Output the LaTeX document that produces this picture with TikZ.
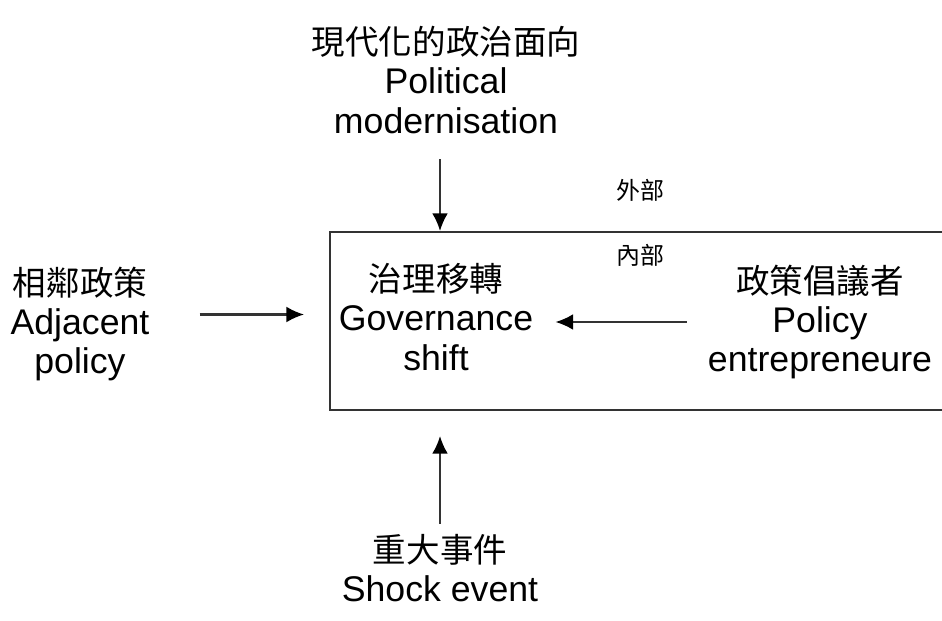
\documentclass[tikz,border=0pt]{standalone}
\usepackage{fontspec}
\setmainfont{Liberation Sans}
\newfontfamily\cjk[Scale=0.94]{Noto Sans CJK TC}
\usetikzlibrary{arrows.meta}
\tikzset{>={Latex[length=10pt,width=9pt,black]}}
\colorlet{linecol}{black!80}
\tikzstyle{label txt}=[align=center,font=\fontsize{20.3}{22.4}\selectfont,inner sep=0pt]
\tikzstyle{small txt}=[font=\cjk\fontsize{14.5}{16}\selectfont,inner sep=0pt]
\tikzstyle{flow}=[->,color=linecol,line width=1.2pt]

\begin{document}
\begin{tikzpicture}[x=0.02cm,y=-0.02cm]
    \useasboundingbox (0,0) rectangle (942,621);

    % the box of the inner system, open to the right
    \node[draw=linecol,line width=1.2pt,minimum width=12.6cm,minimum height=3.56cm] (box) at (645,321) {};

    \node[label txt] (pm) at (446,80) {{\cjk 現代化的政治面向}\\Political\\modernisation};
    \node[label txt] (adj) at (80,324) {{\cjk 相鄰政策}\\Adjacent\\policy};
    \node[label txt] (gs) at (436,317) {{\cjk 治理移轉}\\Governance\\shift};
    \node[label txt] (ep) at (820,322) {{\cjk 政策倡議者}\\Policy\\entrepreneure};
    \node[label txt] (sh) at (440,568) {{\cjk 重大事件}\\Shock event};

    \node[small txt] (ext) at (640,190) {外部};
    \node[small txt] (int) at (640,255) {內部};

    \coordinate (adjout) at ([yshift=0.19cm]adj.east);
    \coordinate (pmout) at ([xshift=-0.12cm]pm.south);
    \draw[flow, shorten <=0.5cm] (pmout) -- (pmout |- box.north);
    \draw[flow, shorten <=1.0cm, shorten >=0.5cm] (adjout) -- (box.west |- adjout);
    \draw[flow, shorten <=0.42cm, shorten >=0.44cm] (ep.west) -- (gs.east |- ep.west);
    \draw[flow, shorten <=0.2cm, shorten >=0.5cm] (sh) -- (sh |- box.south);
\end{tikzpicture}
\end{document}
